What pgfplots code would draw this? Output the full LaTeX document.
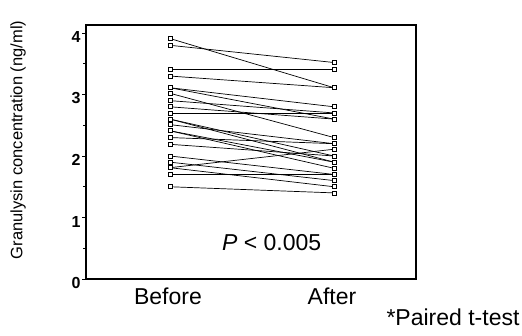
\documentclass[border=0pt]{standalone}
\usepackage{pgfplots}
\pgfplotsset{compat=1.18}
\usepackage{fontspec}
\setmainfont{Liberation Sans}
\tikzset{subj/.style={draw=black, line width=0.7bp, mark=square*, mark size=2bp, mark options={draw=black, fill=white, line width=0.6bp, solid}}}
\begin{document}
\begin{tikzpicture}
\path[use as bounding box] (0,0) rectangle (522bp,336bp);
\begin{axis}[
  at={(86bp,57bp)}, anchor=south west,
  scale only axis, width=330bp, height=254bp,
  xmin=-0.512, xmax=1.5, ymin=0, ymax=4.13,
  xtick={0,1}, xticklabels={Before,After},
  major x tick style={draw=none},
  x tick label style={font=\fontsize{23bp}{26bp}\selectfont, yshift=-1bp, xshift=-2bp},
  ytick={0,1,2,3,4}, minor ytick={0.5,1.5,2.5,3.5},
  tick pos=left, tick align=outside,
  major tick length=4bp, minor tick length=3bp,
  y tick label style={font=\fontsize{16bp}{18bp}\selectfont\bfseries, yshift=-4bp, xshift=2bp},
  /pgf/number format/assume math mode=true,
  axis line style={line width=1.2bp},
  every tick/.style={black, line width=0.8bp},
  clip=false,
]
\addplot[subj] coordinates {(0,3.91) (1,3.11)};
\addplot[subj] coordinates {(0,3.80) (1,3.52)};
\addplot[subj] coordinates {(0,3.41) (1,3.41)};
\addplot[subj] coordinates {(0,3.30) (1,3.11)};
\addplot[subj] coordinates {(0,3.11) (1,2.80)};
\addplot[subj] coordinates {(0,3.11) (1,2.60)};
\addplot[subj] coordinates {(0,3.02) (1,2.30)};
\addplot[subj] coordinates {(0,2.90) (1,2.70)};
\addplot[subj] coordinates {(0,2.80) (1,2.60)};
\addplot[subj] coordinates {(0,2.70) (1,2.70)};
\addplot[subj] coordinates {(0,2.60) (1,1.90)};
\addplot[subj] coordinates {(0,2.60) (1,2.00)};
\addplot[subj] coordinates {(0,2.51) (1,2.20)};
\addplot[subj] coordinates {(0,2.41) (1,1.80)};
\addplot[subj] coordinates {(0,2.41) (1,1.90)};
\addplot[subj] coordinates {(0,2.30) (1,2.20)};
\addplot[subj] coordinates {(0,2.19) (1,2.00)};
\addplot[subj] coordinates {(0,2.00) (1,1.70)};
\addplot[subj] coordinates {(0,1.90) (1,1.60)};
\addplot[subj] coordinates {(0,1.81) (1,2.11)};
\addplot[subj] coordinates {(0,1.81) (1,1.50)};
\addplot[subj] coordinates {(0,1.70) (1,1.70)};
\addplot[subj] coordinates {(0,1.50) (1,1.40)};
\node[font=\fontsize{23bp}{26bp}\selectfont] at (axis cs:0.62,0.6) {\textit{P} < 0.005};
\end{axis}
\node[rotate=90, font=\fontsize{16.5bp}{19bp}\selectfont] at (18bp,196bp) {Granulysin concentration (ng/ml)};
\node[anchor=east, font=\fontsize{23bp}{26bp}\selectfont] at (523bp,19bp) {*Paired t-test};
\end{tikzpicture}
\end{document}
